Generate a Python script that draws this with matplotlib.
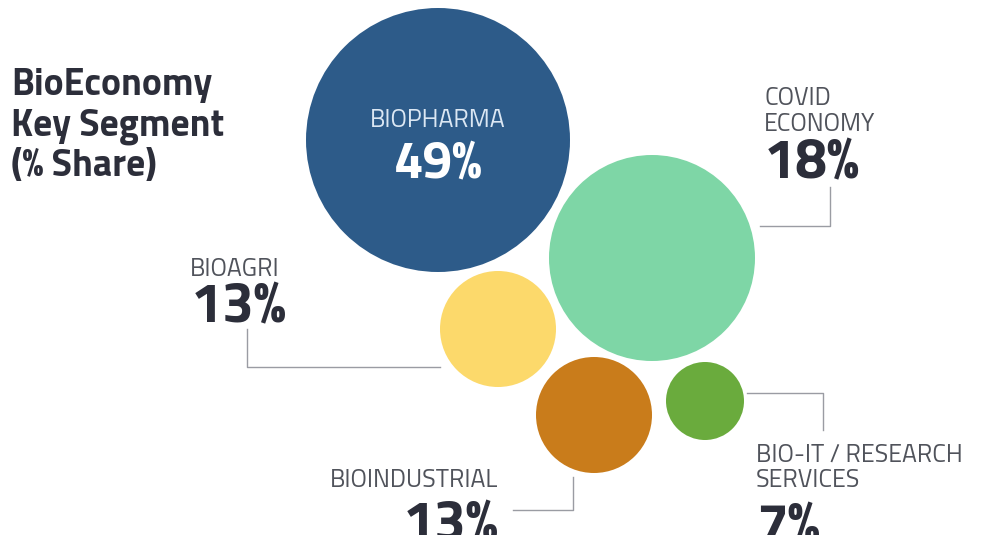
import matplotlib.pyplot as plt
from matplotlib.patches import Circle

# data
segments = ['BIOPHARMA', 'COVID ECONOMY', 'BIOAGRI', 'BIOINDUSTRIAL', 'BIO-IT / RESEARCH SERVICES']
shares = [49, 18, 13, 13, 7]
colors = ['#2d5b89', '#7ed6a6', '#fcd96b', '#c97c1b', '#6aab3d']
title_lines = ['BioEconomy', 'Key Segment', '(% Share)']

# layout (pixels, y downwards)
centers = [(438, 140), (652, 258), (498, 329), (594, 415), (705, 401)]
radii = [132, 103, 58, 58, 39]

FONT = ['Titillium Web', 'Roboto', 'DejaVu Sans']
DARK = '#2c2e3a'
GREY = '#50535b'
LINE = '#9a9ca3'

fig = plt.figure(figsize=(9.84, 5.35), dpi=100)
ax = fig.add_axes([0, 0, 1, 1])
ax.set_xlim(0, 984)
ax.set_ylim(535, 0)
ax.set_aspect('equal')
ax.axis('off')

for (cx, cy), r, c in zip(centers, radii, colors):
    ax.add_patch(Circle((cx, cy), r, color=c, lw=0))


def label(x, y, s, size=18, weight='normal', color=GREY, ha='left'):
    ax.text(x, y, s, fontsize=size, family=FONT, fontweight=weight,
            color=color, ha=ha, va='baseline')


def pct(x, y, v, size=41, color=DARK, ha='left'):
    label(x, y, f'{v}%', size=size, weight='bold', color=color, ha=ha)


# title
for i, t in enumerate(title_lines):
    label(11, [95, 136, 176][i], t, size=27, weight='bold', color=DARK)

# biopharma inside bubble
label(438, 127, segments[0], color='#dbe7f3', ha='center')
pct(438, 177, shares[0], size=38, color='white', ha='center')

# covid
label(764, 105, 'COVID')
label(764, 131, 'ECONOMY')
pct(764, 178, shares[1])
ax.plot([760, 830, 830], [226, 226, 187], color=LINE, lw=1)

# bioagri
label(190, 276, segments[2])
pct(191, 322, shares[2])
ax.plot([247, 247, 440], [329, 367, 367], color=LINE, lw=1)

# bioindustrial
label(498, 487, segments[3], ha='right')
pct(498, 540, shares[3], ha='right')
ax.plot([513, 573, 573], [510, 510, 477], color=LINE, lw=1)

# bio-it
label(756, 462, 'BIO-IT / RESEARCH')
label(756, 487, 'SERVICES')
pct(756, 542, shares[4])
ax.plot([747, 823, 823], [393, 393, 430], color=LINE, lw=1)

fig.savefig('out.png', dpi=100, facecolor='white')
